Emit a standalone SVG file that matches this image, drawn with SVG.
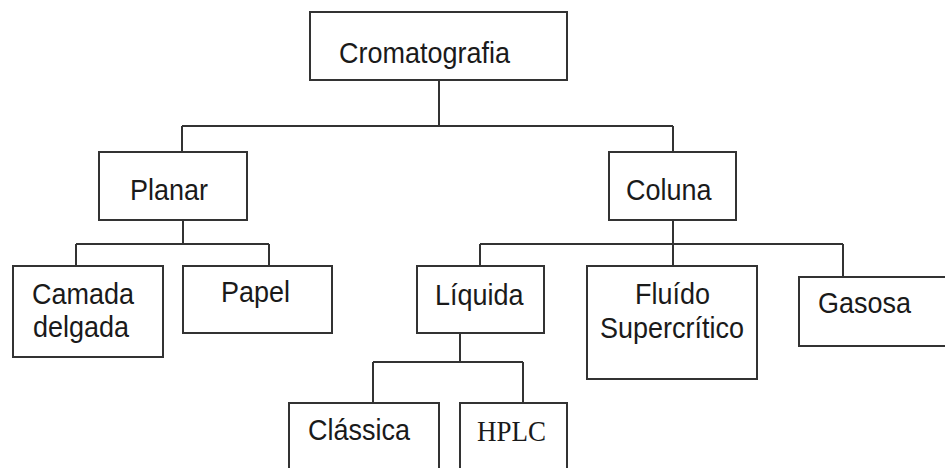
<svg xmlns="http://www.w3.org/2000/svg" width="945" height="468" viewBox="0 0 945 468">
<style>
.box{fill:#fff;stroke:#333;stroke-width:2}
.t{font-family:"Liberation Sans",Arial,sans-serif;font-size:27px;fill:#1a1a1a}
.s{font-family:"Liberation Serif","Times New Roman",serif;font-size:27px;fill:#1a1a1a}
.c{fill:none;stroke:#333;stroke-width:2}
</style>
<rect width="945" height="468" fill="#fff"/>
<g id="connectors" class="c">
<path d="M439,80 V126 M182,126 H673 M182,126 V152 M673,126 V152"/>
<path d="M183,220 V244 M76,244 H269 M76,244 V266 M269,244 V266"/>
<path d="M673,220 V266 M480,244 H843 M480,244 V266 M843,244 V277"/>
<path d="M460,333 V362 M373,362 H523 M373,362 V403 M523,362 V403"/>
</g>
<g id="cromatografia"><rect class="box" x="310" y="12" width="257" height="68"/><text class="t" transform="matrix(1,0,0,1.1,339,63)">Cromatografia</text></g>
<g id="planar"><rect class="box" x="99" y="152" width="148" height="68"/><text class="t" transform="matrix(1,0,0,1.1,130,200)">Planar</text></g>
<g id="coluna"><rect class="box" x="609" y="152" width="127" height="68"/><text class="t" transform="matrix(1,0,0,1.1,626,200)">Coluna</text></g>
<g id="camada"><rect class="box" x="13" y="266" width="150" height="91"/><text class="t" transform="matrix(1,0,0,1.1,32,304)">Camada</text><text class="t" transform="matrix(1,0,0,1.1,33,337)">delgada</text></g>
<g id="papel"><rect class="box" x="183" y="266" width="149" height="67"/><text class="t" transform="matrix(1,0,0,1.1,221,302)">Papel</text></g>
<g id="liquida"><rect class="box" x="417" y="266" width="127" height="67"/><text class="t" transform="matrix(1,0,0,1.1,435,305)">Líquida</text></g>
<g id="fluido"><rect class="box" x="587" y="266" width="170" height="113"/><text class="t" transform="matrix(1,0,0,1.1,635,304)">Fluído</text><text class="t" transform="matrix(1,0,0,1.1,600,338)">Supercrítico</text></g>
<g id="gasosa"><rect class="box" x="799" y="277" width="160" height="69"/><text class="t" transform="matrix(1,0,0,1.1,818,313)">Gasosa</text></g>
<g id="classica"><rect class="box" x="289" y="403" width="150" height="80"/><text class="t" transform="matrix(1,0,0,1.1,308,440)">Clássica</text></g>
<g id="hplc"><rect class="box" x="460" y="403" width="107" height="80"/><text class="s" transform="matrix(1,0,0,1.1,477,441)">HPLC</text></g>
</svg>
